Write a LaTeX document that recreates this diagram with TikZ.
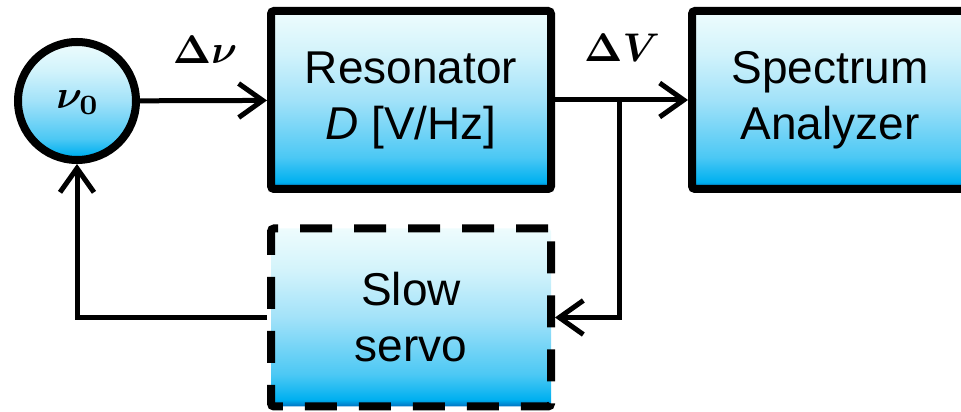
\documentclass[tikz,border=0pt]{standalone}
\usepackage{fontspec}
\setsansfont{Liberation Sans}
\usepackage{amsmath}
\usepackage{bm}
\usetikzlibrary{arrows.meta}
\definecolor{gA}{HTML}{0070C0}
\definecolor{gB}{HTML}{00B0F0}
\definecolor{gC}{HTML}{4CC8F4}
\definecolor{gD}{HTML}{A2E2F9}
\definecolor{gE}{HTML}{D2F3FB}
\definecolor{gF}{HTML}{EEFCFD}
\pgfdeclareverticalshading{boxgrad}{100bp}{color(0bp)=(gA); color(25bp)=(gA); color(27bp)=(gB); color(34bp)=(gC); color(50bp)=(gD); color(63bp)=(gE); color(75bp)=(gF); color(100bp)=(gF)}
\tikzset{
  blk/.style={draw=black, line width=8pt, rounded corners=3pt, shading=boxgrad,
    minimum width=280pt, minimum height=178pt, align=center,
    font=\sffamily\fontsize{46}{56}\selectfont, text=black},
  osc/.style={circle, draw=black, line width=8pt, shading=boxgrad, minimum size=118pt, inner sep=0pt},
  conn/.style={line width=5pt},
  arr/.style={conn, -{Straight Barb[length=24pt,width=34pt,line width=5pt]}},
  lbl/.style={scale=4, inner sep=0pt}
}
\begin{document}
\begin{tikzpicture}[x=1pt,y=1pt]
\useasboundingbox (0,0) rectangle (961,412);
\node[osc] (osc) at (77,311) {};
\node[lbl] (osctext) at (78,309) {$\bm{\nu_0}$};
\node[blk] (res) at (411,312) {Resonator\\\textit{D} [V/Hz]};
\node[blk, minimum width=276pt] (sa) at (830,312) {Spectrum\\Analyzer};
\node[blk, dash pattern=on 32pt off 22pt] (servo) at (411,94.5) {Slow\\servo};
\node[lbl] (dnu) at (205,362) {$\bm{\Delta\nu}$};
\node[lbl] (dV) at (622,364) {$\bm{\Delta V}$};
\coordinate (br) at (619,312);
\draw[arr] (osc) -- (res);
\draw[arr] (res) -- (sa);
\draw[arr] (br) |- (servo.east);
\draw[arr] (servo.west) -| (osc.south);
\end{tikzpicture}
\end{document}
